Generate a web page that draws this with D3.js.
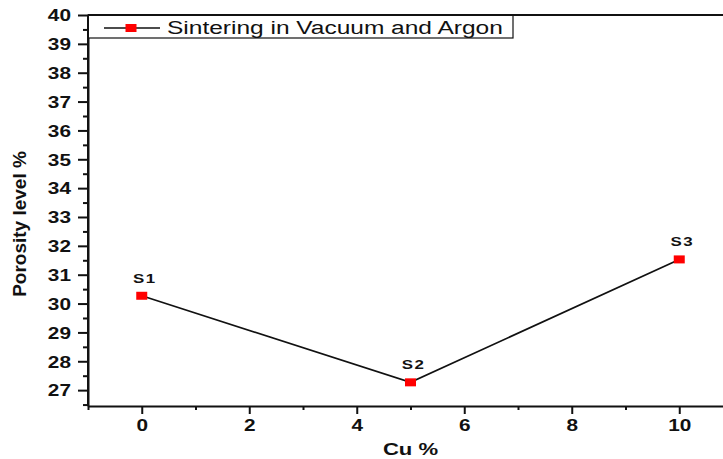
<!DOCTYPE html>
<html>
<head>
<meta charset="utf-8">
<script src="https://cdn.jsdelivr.net/npm/d3@7/dist/d3.min.js"></script>
<style>
  html, body { margin: 0; padding: 0; background: #fff; }
  svg { display: block; }
  text { font-family: "Liberation Sans", Arial, sans-serif; fill: #111; }
</style>
</head>
<body>
<svg id="chart" width="723" height="459"></svg>
<script>
// Porosity level vs. copper content
const sampleNames = ["S1", "S2", "S3"];
const cuPercent = [0, 5, 10];
const porosity = [30.27, 27.27, 31.53];
const seriesName = "Sintering in Vacuum and Argon";
const xTicks = [0, 2, 4, 6, 8, 10];
const xMinorTicks = [-1, 1, 3, 5, 7, 9];
const yTicks = [27, 28, 29, 30, 31, 32, 33, 34, 35, 36, 37, 38, 39, 40];
const yMinorTicks = [26.5, 27.5, 28.5, 29.5, 30.5, 31.5, 32.5, 33.5, 34.5, 35.5, 36.5, 37.5, 38.5, 39.5];

const W = 723, H = 459;
const plot = { left: 88, top: 15, bottom: 406, right: 733 };
const sx = 1.3; // horizontal glyph stretch

const svg = d3.select("#chart");

const x = d3.scaleLinear().domain([-1, 11]).range([plot.left, plot.right]);
const y = d3.scaleLinear().domain([26.45, 40]).range([plot.bottom, plot.top]);

// Minor ticks
svg.append("g")
  .attr("transform", `translate(0,${plot.bottom})`)
  .call(d3.axisBottom(x).tickValues(xMinorTicks).tickSize(4).tickFormat(""))
  .call(g => g.select(".domain").remove())
  .call(g => g.selectAll("line").attr("stroke", "#111").attr("stroke-width", 2));

svg.append("g")
  .attr("transform", `translate(${plot.left},0)`)
  .call(d3.axisLeft(y).tickValues(yMinorTicks).tickSize(5).tickFormat(""))
  .call(g => g.select(".domain").remove())
  .call(g => g.selectAll("line").attr("stroke", "#111").attr("stroke-width", 2));

// Major x axis
svg.append("g")
  .attr("transform", `translate(0,${plot.bottom})`)
  .call(d3.axisBottom(x).tickValues(xTicks).tickSize(8).tickSizeOuter(0).tickFormat(d3.format("d")))
  .call(g => g.select(".domain").attr("stroke", "#111").attr("stroke-width", 2))
  .call(g => g.selectAll("line").attr("stroke", "#111").attr("stroke-width", 2))
  .call(g => g.selectAll("text")
    .attr("y", 0).attr("dy", 0)
    .attr("transform", `translate(0,25) scale(${sx},1)`)
    .style("font-size", "16px").style("font-weight", "bold"));

// Major y axis
svg.append("g")
  .attr("transform", `translate(${plot.left},0)`)
  .call(d3.axisLeft(y).tickValues(yTicks).tickSize(10).tickSizeOuter(0).tickFormat(d3.format("d")))
  .call(g => g.select(".domain").attr("stroke", "#111").attr("stroke-width", 2))
  .call(g => g.selectAll("line").attr("stroke", "#111").attr("stroke-width", 2))
  .call(g => g.selectAll("text")
    .attr("x", -17 / sx).attr("dy", "0.36em")
    .attr("transform", `scale(${sx},1)`)
    .style("font-size", "16px").style("font-weight", "bold"));

// Axis titles
svg.append("text")
  .attr("transform", `translate(${(plot.left + plot.right) / 2},455) scale(${sx},1)`)
  .attr("text-anchor", "middle")
  .style("font-size", "17px").style("font-weight", "bold")
  .text("Cu %");

svg.append("text")
  .attr("transform", `translate(26,224) rotate(-90)`)
  .attr("text-anchor", "middle")
  .style("font-size", "19px").style("font-weight", "bold")
  .text("Porosity level %");

// Series line
const pts = cuPercent.map((c, i) => ({ c, p: porosity[i], name: sampleNames[i] }));
svg.append("path")
  .datum(pts)
  .attr("fill", "none")
  .attr("stroke", "#111")
  .attr("stroke-width", 1.7)
  .attr("d", d3.line().x(d => x(d.c)).y(d => y(d.p)));

// Markers
const mw = 11, mh = 8;
svg.selectAll("rect.marker")
  .data(pts)
  .join("rect")
  .attr("class", "marker")
  .attr("x", d => x(d.c) - mw / 2)
  .attr("y", d => y(d.p) - mh / 2)
  .attr("width", mw).attr("height", mh)
  .attr("fill", "#ff0000");

// Sample labels
svg.selectAll("text.sample")
  .data(pts)
  .join("text")
  .attr("class", "sample")
  .attr("transform", d => `translate(${x(d.c) + 3},${y(d.p) - 13}) scale(${sx},1)`)
  .attr("text-anchor", "middle")
  .style("font-size", "13px").style("font-weight", "bold")
  .style("letter-spacing", "1px")
  .text(d => d.name);

// Legend
const lg = svg.append("g");
lg.append("rect")
  .attr("x", plot.left).attr("y", plot.top)
  .attr("width", 425).attr("height", 23)
  .attr("fill", "#fff").attr("stroke", "#111").attr("stroke-width", 1.2);
lg.append("line")
  .attr("x1", 104).attr("x2", 160).attr("y1", 28).attr("y2", 28)
  .attr("stroke", "#111").attr("stroke-width", 1.7);
lg.append("rect")
  .attr("x", 131 - mw / 2).attr("y", 28 - mh / 2)
  .attr("width", mw).attr("height", mh).attr("fill", "#ff0000");
lg.append("text")
  .attr("transform", `translate(167,34) scale(1.29,1)`)
  .style("font-size", "19px")
  .text(seriesName);

// Frame edges drawn over the legend border
svg.append("line")
  .attr("x1", plot.left).attr("x2", W).attr("y1", plot.top).attr("y2", plot.top)
  .attr("stroke", "#111").attr("stroke-width", 2);
svg.append("line")
  .attr("x1", plot.left).attr("x2", plot.left).attr("y1", plot.top).attr("y2", plot.bottom)
  .attr("stroke", "#111").attr("stroke-width", 2);
</script>
</body>
</html>
